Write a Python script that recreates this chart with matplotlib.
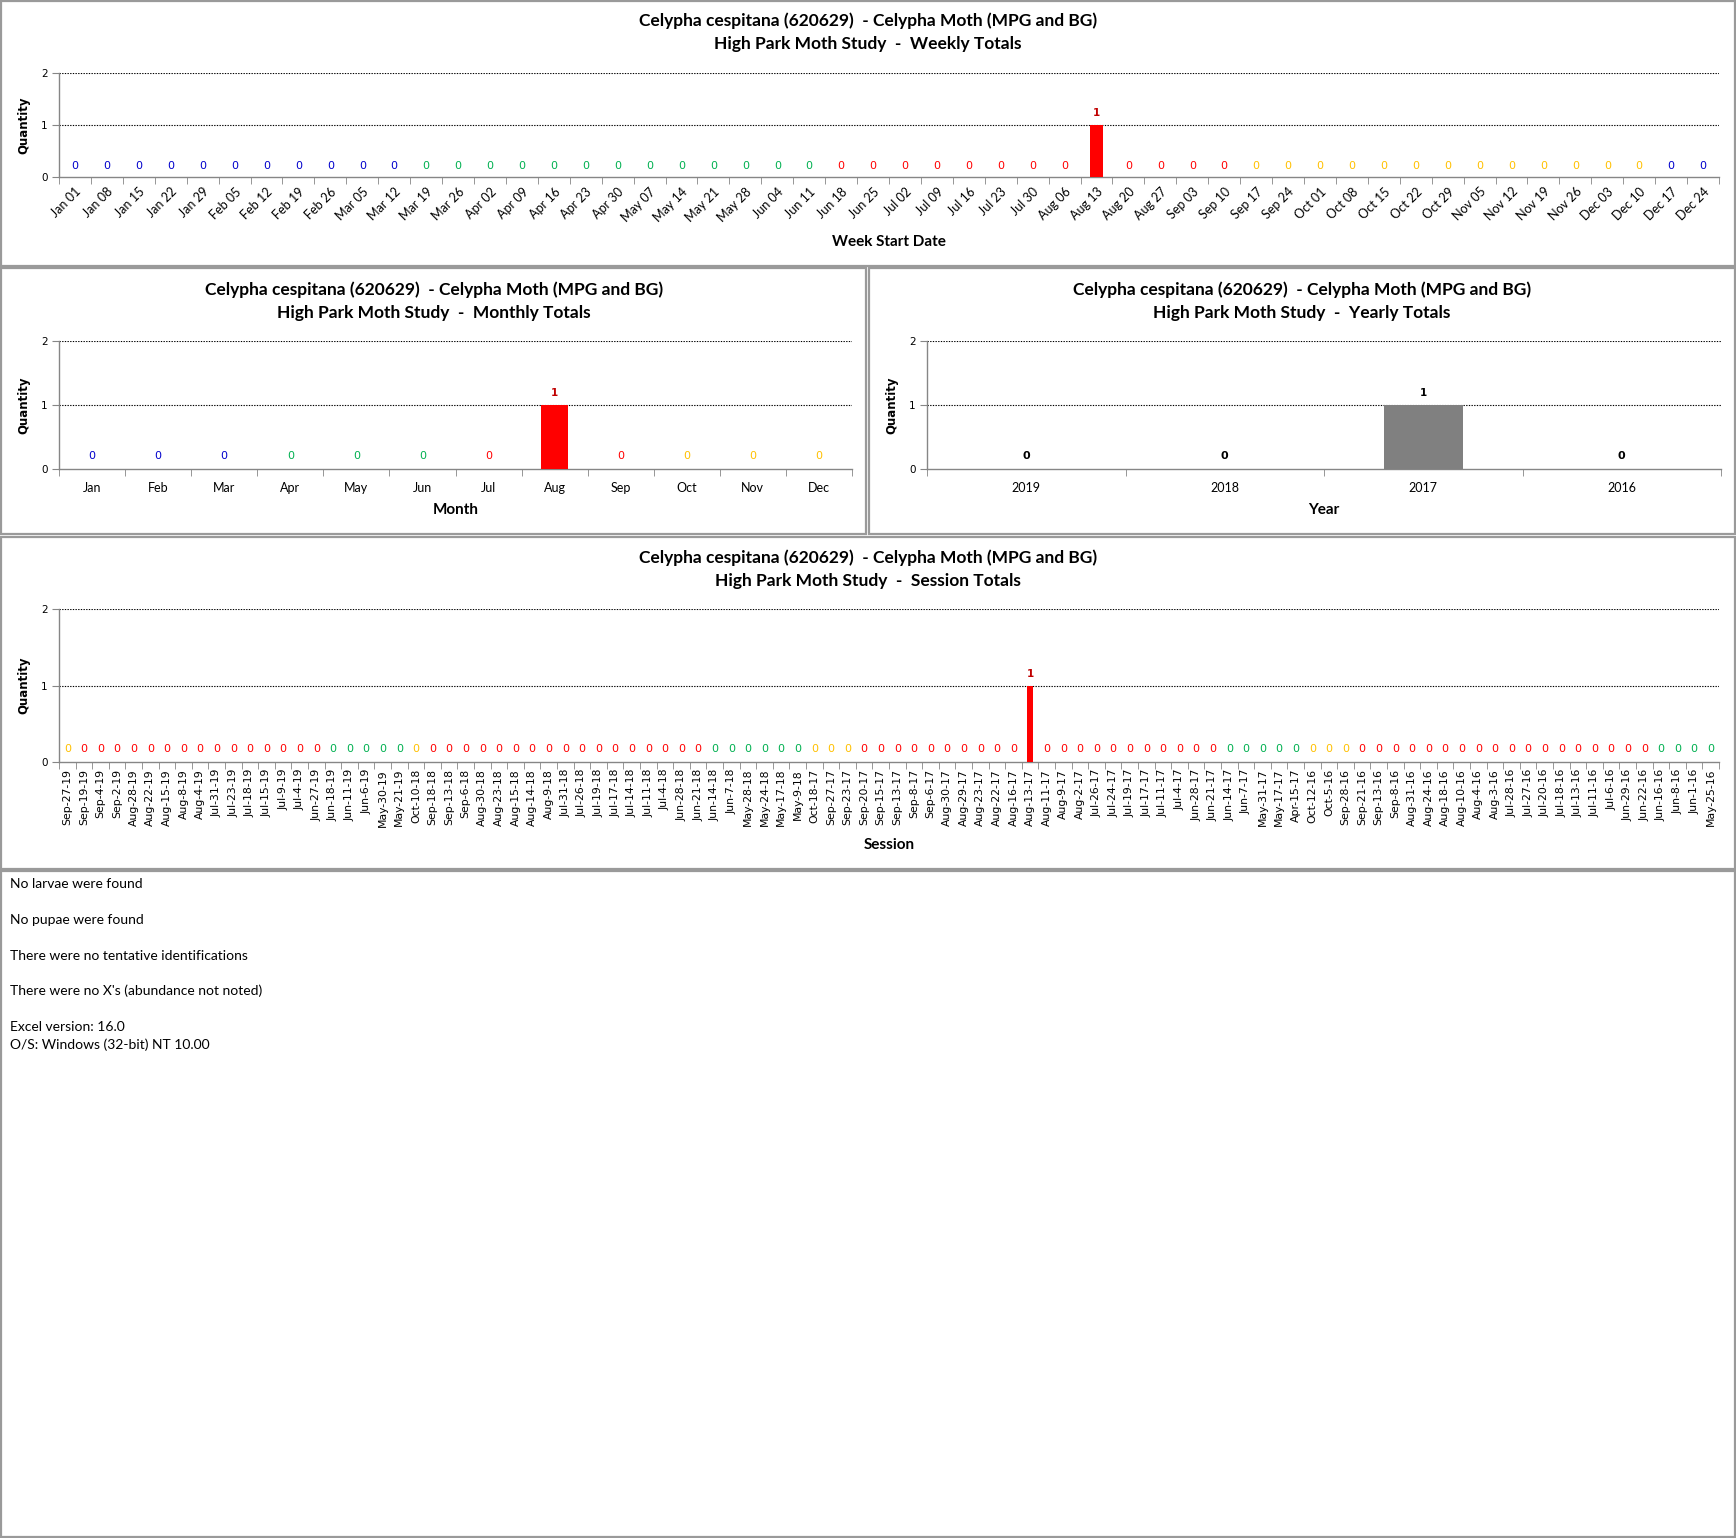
import datetime as dt
import matplotlib
matplotlib.use("Agg")
import matplotlib.pyplot as plt
from matplotlib.patches import Rectangle

# ---------------- data ----------------
week_labels = ["Jan 01", "Jan 08", "Jan 15", "Jan 22", "Jan 29", "Feb 05", "Feb 12", "Feb 19",
               "Feb 26", "Mar 05", "Mar 12", "Mar 19", "Mar 26", "Apr 02", "Apr 09", "Apr 16",
               "Apr 23", "Apr 30", "May 07", "May 14", "May 21", "May 28", "Jun 04", "Jun 11",
               "Jun 18", "Jun 25", "Jul 02", "Jul 09", "Jul 16", "Jul 23", "Jul 30", "Aug 06",
               "Aug 13", "Aug 20", "Aug 27", "Sep 03", "Sep 10", "Sep 17", "Sep 24", "Oct 01",
               "Oct 08", "Oct 15", "Oct 22", "Oct 29", "Nov 05", "Nov 12", "Nov 19", "Nov 26",
               "Dec 03", "Dec 10", "Dec 17", "Dec 24"]
week_values = [0] * 52
week_values[week_labels.index("Aug 13")] = 1

month_labels = ["Jan", "Feb", "Mar", "Apr", "May", "Jun", "Jul", "Aug", "Sep", "Oct", "Nov", "Dec"]
month_values = [0, 0, 0, 0, 0, 0, 0, 1, 0, 0, 0, 0]

year_labels = ["2019", "2018", "2017", "2016"]
year_values = [0, 0, 1, 0]

session_labels = [
    "Sep-27-19", "Sep-19-19", "Sep-4-19", "Sep-2-19", "Aug-28-19", "Aug-22-19", "Aug-15-19",
    "Aug-8-19", "Aug-4-19", "Jul-31-19", "Jul-23-19", "Jul-18-19", "Jul-15-19", "Jul-9-19",
    "Jul-4-19", "Jun-27-19", "Jun-18-19", "Jun-11-19", "Jun-6-19", "May-30-19", "May-21-19",
    "Oct-10-18", "Sep-18-18", "Sep-13-18", "Sep-6-18", "Aug-30-18", "Aug-23-18", "Aug-15-18",
    "Aug-14-18", "Aug-9-18", "Jul-31-18", "Jul-26-18", "Jul-19-18", "Jul-17-18", "Jul-14-18",
    "Jul-11-18", "Jul-4-18", "Jun-28-18", "Jun-21-18", "Jun-14-18", "Jun-7-18", "May-28-18",
    "May-24-18", "May-17-18", "May-9-18", "Oct-18-17", "Sep-27-17", "Sep-23-17", "Sep-20-17",
    "Sep-15-17", "Sep-13-17", "Sep-8-17", "Sep-6-17", "Aug-30-17", "Aug-29-17", "Aug-23-17",
    "Aug-22-17", "Aug-16-17", "Aug-13-17", "Aug-11-17", "Aug-9-17", "Aug-2-17", "Jul-26-17",
    "Jul-24-17", "Jul-19-17", "Jul-17-17", "Jul-11-17", "Jul-4-17", "Jun-28-17", "Jun-21-17",
    "Jun-14-17", "Jun-7-17", "May-31-17", "May-17-17", "Apr-15-17", "Oct-12-16", "Oct-5-16",
    "Sep-28-16", "Sep-21-16", "Sep-13-16", "Sep-8-16", "Aug-31-16", "Aug-24-16", "Aug-18-16",
    "Aug-10-16", "Aug-4-16", "Aug-3-16", "Jul-28-16", "Jul-27-16", "Jul-20-16", "Jul-18-16",
    "Jul-13-16", "Jul-11-16", "Jul-6-16", "Jun-29-16", "Jun-22-16", "Jun-16-16", "Jun-8-16",
    "Jun-1-16", "May-25-16"]
session_values = [0] * len(session_labels)
session_values[session_labels.index("Aug-13-17")] = 1

notes = ["No larvae were found", "No pupae were found", "There were no tentative identifications",
         "There were no X's (abundance not noted)", "Excel version: 16.0",
         "O/S: Windows (32-bit) NT 10.00"]

species = "Celypha cespitana (620629)  - Celypha Moth (MPG and BG)"
study = "High Park Moth Study  -  "

# ---------------- styles ----------------
C_WIN, C_SPR, C_SUM, C_FAL = "#0000CC", "#00B050", "#FF0000", "#FFC000"
MON = {m: i + 1 for i, m in enumerate(month_labels)}


def season_color(month, day):
    md = (month, day)
    if (3, 20) <= md <= (6, 20):
        return C_SPR
    if (6, 21) <= md <= (9, 21):
        return C_SUM
    if (9, 22) <= md <= (12, 20):
        return C_FAL
    return C_WIN


def week_color(lab):
    m, d = lab.split()
    end = dt.date(2018, MON[m], int(d)) + dt.timedelta(days=6)
    if end.year > 2018:
        return C_WIN
    return season_color(end.month, end.day)


def session_color(lab):
    m, d, _ = lab.split("-")
    return season_color(MON[m], int(d))


month_colors = [C_WIN] * 3 + [C_SPR] * 3 + [C_SUM] * 3 + [C_FAL] * 3

TITLE_FONT = "Lato"
W, H = 1736, 1538
fig = plt.figure(figsize=(W / 100, H / 100), dpi=100)


def px_axes(left, right, top, bottom):
    return fig.add_axes([left / W, 1 - bottom / H, (right - left) / W, (bottom - top) / H])


def frame(x0, y0, x1, y1):
    fig.patches.append(Rectangle((x0 / W, 1 - y1 / H), (x1 - x0) / W, (y1 - y0) / H,
                                 transform=fig.transFigure, fill=False,
                                 edgecolor="#9a9a9a", linewidth=1.6))


def ftext(x, y, s, **kw):
    fig.text(x / W, 1 - y / H, s, **kw)


def setup(ax, labels, values, colors, bar_colors, xlabel, rot, tickfs, tickfam, label_colors_one,
          lab_weight="normal", off0=9.3, off1=8.5, xpad=9, lpad=7):
    n = len(labels)
    x = list(range(n))
    ax.bar(x, values, width=0.4, color=bar_colors, zorder=3)
    ax.set_xlim(-0.5, n - 0.5)
    ax.set_ylim(0, 2)
    for yv in (1, 2):
        ax.axhline(yv, color="black", lw=0.8, ls=(0, (1.2, 1.2)), zorder=1)
    for s in ("top", "right"):
        ax.spines[s].set_visible(False)
    for s in ("left", "bottom"):
        ax.spines[s].set_color("#868686")
        ax.spines[s].set_linewidth(1.0)
    ax.set_yticks([0, 1, 2])
    ax.set_yticklabels(["0", "1", "2"], fontsize=7.5, family="DejaVu Sans")
    ax.tick_params(axis="y", length=5, color="#868686", pad=3)
    ax.set_xticks(x)
    if rot == 45:
        ax.set_xticklabels(labels, rotation=45, ha="right", rotation_mode="anchor",
                           fontsize=tickfs, family=tickfam)
    elif rot == 90:
        ax.set_xticklabels(labels, rotation=90, ha="center", va="top",
                           fontsize=tickfs, family=tickfam)
    else:
        ax.set_xticklabels(labels, fontsize=tickfs, family=tickfam)
    ax.tick_params(axis="x", which="major", length=0, pad=xpad)
    ax.set_xticks([i - 0.5 for i in range(n + 1)], minor=True)
    ax.tick_params(axis="x", which="minor", length=5, color="#868686")
    ax.set_ylabel("Quantity", fontsize=8.5, fontweight="bold", family="DejaVu Sans", labelpad=8)
    ax.set_xlabel(xlabel, fontsize=11, fontweight="bold", family=TITLE_FONT, labelpad=lpad)
    for i, v in enumerate(values):
        col = colors[i] if v == 0 or label_colors_one is None else label_colors_one
        ax.annotate(str(v), (i, v), xytext=(0, off0 if v == 0 else off1),
                    textcoords="offset points",
                    ha="center", va="center", fontsize=8 if v == 0 else 7.5,
                    color=col, family="DejaVu Sans",
                    fontweight="bold" if (v != 0 or lab_weight == "bold") else "normal")


def titles(xc, y1, kind):
    ftext(xc, y1, species, ha="center", va="center", fontsize=12.5, fontweight="bold",
          family=TITLE_FONT)
    ftext(xc, y1 + 23, study + kind, ha="center", va="center", fontsize=12.5, fontweight="bold",
          family=TITLE_FONT)


# ---------------- weekly ----------------
frame(1, 1, 1735, 266)
titles(868, 21, "Weekly Totals")
ax = px_axes(59, 1719, 73, 177)
setup(ax, week_labels, week_values, [week_color(l) for l in week_labels],
      ["#FF0000"] * len(week_labels), "Week Start Date", 45, 9, TITLE_FONT, "#C00000",
      off0=8, off1=8.5, xpad=6, lpad=8)

# ---------------- monthly ----------------
frame(1, 268, 866, 534)
titles(434, 290, "Monthly Totals")
ax = px_axes(59, 852, 341, 469)
setup(ax, month_labels, month_values, month_colors, ["#FF0000"] * 12, "Month", 0, 9,
      TITLE_FONT, "#C00000")

# ---------------- yearly ----------------
frame(869, 268, 1735, 534)
titles(1302, 290, "Yearly Totals")
ax = px_axes(927, 1721, 341, 469)
setup(ax, year_labels, year_values, ["black"] * 4, ["#808080"] * 4, "Year", 0, 9,
      TITLE_FONT, "black", lab_weight="bold")

# ---------------- session ----------------
frame(1, 537, 1735, 869)
titles(868, 558, "Session Totals")
ax = px_axes(59, 1719, 609, 762)
setup(ax, session_labels, session_values, [session_color(l) for l in session_labels],
      ["#FF0000"] * len(session_labels), "Session", 90, 7.8, "DejaVu Sans", "#C00000",
      xpad=5, lpad=8)

# ---------------- notes ----------------
frame(1, 871, 1735, 1537)
note_y = [884, 920, 956, 991, 1027, 1045]
for s, yy in zip(notes, note_y):
    ftext(10, yy, s, ha="left", va="center", fontsize=10, family=TITLE_FONT)

fig.savefig("out.png", dpi=100, facecolor="white")
